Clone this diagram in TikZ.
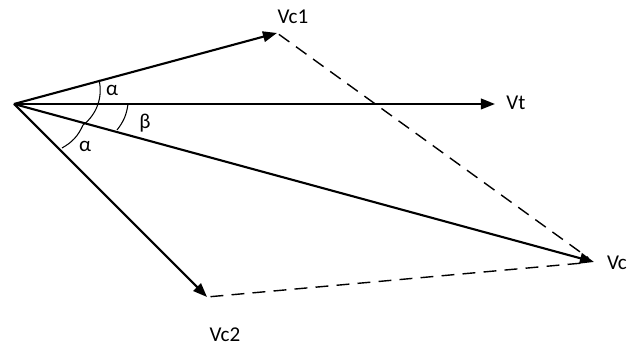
\documentclass[tikz,border=0pt]{standalone}
\usepackage{fontspec}
\setmainfont{Carlito}
\usetikzlibrary{
	arrows.meta,
	positioning,
	calc
}

\begin{document}
\begin{tikzpicture}[x=0.03cm, y=0.03cm,
	phasor/.style={line width=1.8pt, -{Triangle[length=12pt,width=9pt]}},
	sumline/.style={line width=1.2pt, dash pattern=on 11pt off 7pt},
	anglearc/.style={line width=0.9pt},
	lbl/.style={font=\fontsize{18}{21}\selectfont, inner sep=1pt}]

		\useasboundingbox (0,0) rectangle (637,349);

		\coordinate (O) at (14,245);
		\coordinate (Vc1) at (277,316);
		\coordinate (Vt) at (495,245);
		\coordinate (Vc) at (594,87);
		\coordinate (Vc2) at (207,52);

		\draw[phasor] (O) -- (Vc1);
		\draw[phasor] (O) -- (Vt);
		\draw[phasor] (O) -- (Vc);
		\draw[phasor] (O) -- (Vc2);

		\draw[sumline, shorten <=2pt, shorten >=6pt] (Vc1) -- (Vc);
		\draw[sumline, shorten <=3pt, shorten >=8pt] (Vc2) -- (Vc);

		\node[lbl] (lVc1) at (293,332) {Vc1};
		\node[lbl] (lVt) at (516,246) {Vt};
		\node[lbl] (lVc) at (617,86) {Vc};
		\node[lbl] (lVc2) at (225,14) {Vc2};

		% angles
		\draw[anglearc] (99,269) arc[start angle=13.6, end angle=-52.7, radius=43.7] coordinate (a1);
		\draw[anglearc] (a1) to[bend left=18] (62,201);
		\draw[anglearc] (128,245) to[bend left=15] (117,219);

		\node[lbl] (al1) at (112,259) {α};
		\node[lbl] (be) at (145,226) {β};
		\node[lbl] (al2) at (85,203) {α};

	\end{tikzpicture}
\end{document}
